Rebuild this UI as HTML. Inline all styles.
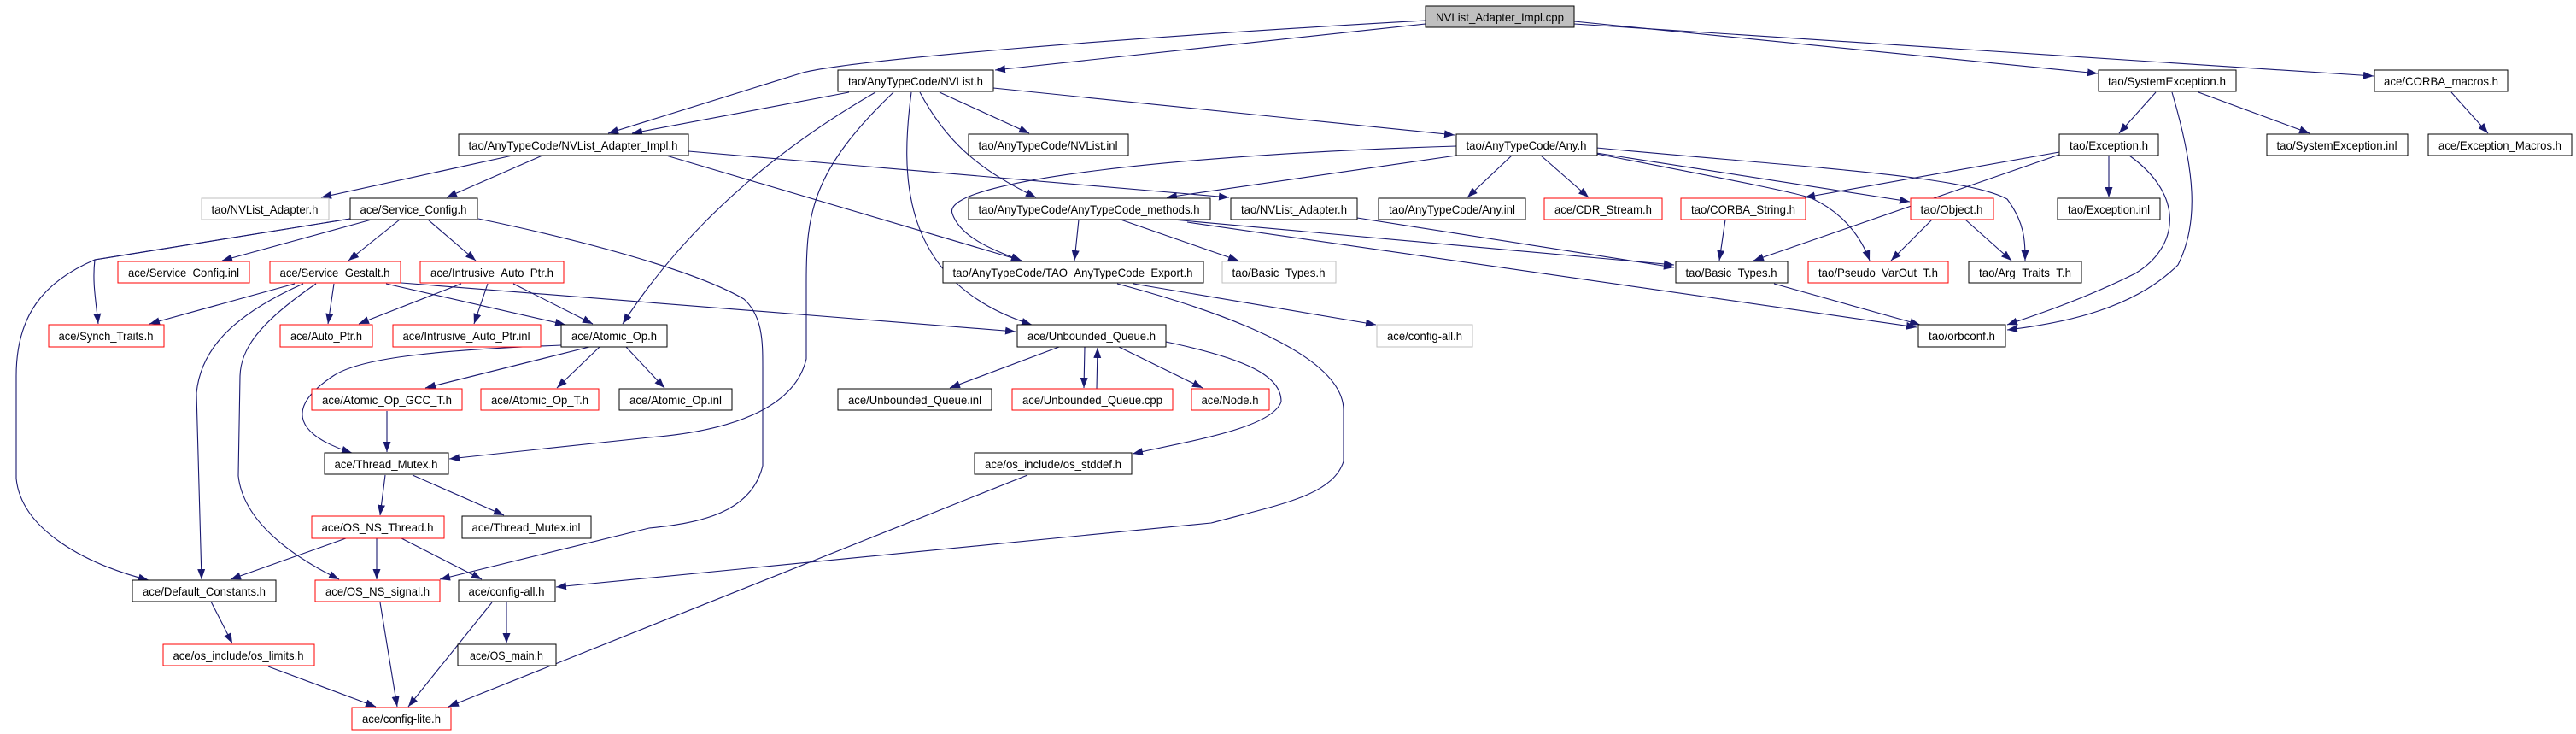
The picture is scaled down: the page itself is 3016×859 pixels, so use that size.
<!DOCTYPE html>
<html><head><meta charset="utf-8"><style>
html,body{margin:0;padding:0;background:#fff;}
svg{display:block;}
text{font-family:"Liberation Sans",sans-serif;font-size:14px;fill:#000;}
.e{fill:none;stroke:#191970;stroke-width:1.1;}
.b{fill:#fff;stroke:#000;stroke-width:1;}
.r{fill:#fff;stroke:#ff0000;stroke-width:1;}
.g{fill:#fff;stroke:#bfbfbf;stroke-width:1;}
</style></head><body>
<svg width="3016" height="859" viewBox="0 0 3016 859" xmlns="http://www.w3.org/2000/svg">
<defs><marker id="a" markerUnits="userSpaceOnUse" markerWidth="13" markerHeight="10" refX="12" refY="4.5" orient="auto"><path d="M0,0 L12,4.5 L0,9 z" fill="#191970"/></marker></defs>
<g class="e" marker-end="url(#a)">
<path d="M1669,28 L1165,82"/>
<path d="M1669,24 C1300,45 1000,70 940,85 L712,156"/>
<path d="M994,108 L740,156"/>
<path d="M1843,25 L2456,86"/>
<path d="M1843,28 L2779,89"/>
<path d="M1100,108 L1205,156"/>
<path d="M1163,103 L1703,158"/>
<path d="M1077,108 C1110,170 1150,200 1213,231"/>
<path d="M1067,108 C1055,200 1050,330 1208,380"/>
<path d="M1025,108 C900,180 800,270 729,379"/>
<path d="M1046,108 C950,200 944,250 944,330 L944,420 C930,480 850,505 760,512 L526,537"/>
<path d="M780,182 L1196,305"/>
<path d="M806,177 L1439,231"/>
<path d="M600,182 L376,231"/>
<path d="M635,182 L523,231"/>
<path d="M1705,182 L1366,231"/>
<path d="M1705,171 C1400,180 1100,210 1115,250 C1125,280 1170,295 1196,305"/>
<path d="M1770,182 L1718,231"/>
<path d="M1804,182 L1860,231"/>
<path d="M1869,180 C2050,215 2100,225 2121,232 C2160,250 2180,280 2189,305"/>
<path d="M1869,173 C2100,195 2300,205 2350,233 C2370,260 2371,280 2371,305"/>
<path d="M1869,179 L2236,236"/>
<path d="M1373,257 L1960,310"/>
<path d="M1589,255 L1960,313"/>
<path d="M1390,260 L2244,383"/>
<path d="M2077,332 L2248,380"/>
<path d="M1327,332 L1611,380"/>
<path d="M1308,332 C1450,370 1573,420 1573,480 L1573,540 C1560,580 1500,590 1418,612 L651,687"/>
<path d="M2411,181 L2053,305"/>
<path d="M2411,178 L2113,231"/>
<path d="M2469,182 L2469,231"/>
<path d="M2493,182 C2560,230 2550,290 2500,320 C2440,350 2380,370 2350,380"/>
<path d="M2543,108 C2570,200 2575,260 2550,310 C2500,360 2420,378 2350,386"/>
<path d="M2524,108 L2481,156"/>
<path d="M2574,108 L2704,156"/>
<path d="M2870,108 L2913,156"/>
<path d="M2020,257 L2013,305"/>
<path d="M2262,257 L2214,305"/>
<path d="M2301,257 L2355,305"/>
<path d="M1263,257 L1258,305"/>
<path d="M1312,257 L1450,305"/>
<path d="M435,257 L260,305"/>
<path d="M468,257 L408,305"/>
<path d="M501,257 L557,305"/>
<path d="M410,256 L111,304 C108,330 112,350 115,379"/>
<path d="M410,256 L111,304 C50,330 19,370 19,440 L19,560 C25,620 100,660 174,679"/>
<path d="M345,332 L175,379"/>
<path d="M391,332 L384,379"/>
<path d="M452,332 L662,380"/>
<path d="M470,331 L1189,388"/>
<path d="M355,332 C270,370 235,410 230,460 L236,678"/>
<path d="M370,332 C300,380 282,410 281,440 L279,557 C285,610 340,650 397,678"/>
<path d="M560,256 C700,285 820,320 871,350 C893,370 893,400 893,430 L893,545 C880,600 820,612 760,618 L515,678"/>
<path d="M540,332 L420,379"/>
<path d="M571,332 L555,379"/>
<path d="M601,332 L694,379"/>
<path d="M657,404 C500,410 420,420 390,440 C330,480 350,510 412,530"/>
<path d="M690,406 L498,454"/>
<path d="M702,406 L652,454"/>
<path d="M733,406 L778,454"/>
<path d="M453,481 L453,529"/>
<path d="M1240,406 L1112,454"/>
<path d="M1270,406 L1269,454"/>
<path d="M1284,455 L1285,407"/>
<path d="M1310,406 L1408,454"/>
<path d="M1365,400 C1460,420 1500,440 1500,470 C1490,500 1400,515 1326,531"/>
<path d="M451,556 L445,603"/>
<path d="M483,556 L590,603"/>
<path d="M405,630 L270,678"/>
<path d="M441,630 L441,678"/>
<path d="M470,630 L564,678"/>
<path d="M247,704 L272,753"/>
<path d="M314,780 L440,827"/>
<path d="M445,705 L465,827"/>
<path d="M576,705 L478,827"/>
<path d="M593,705 L593,753"/>
<path d="M1203,556 L525,827"/>
</g>
<g text-anchor="middle" lengthAdjust="spacingAndGlyphs">
<rect x="1669" y="7" width="174" height="25" fill="#bfbfbf" stroke="#000"/><text x="1756" y="25" textLength="150" lengthAdjust="spacingAndGlyphs">NVList_Adapter_Impl.cpp</text>
<rect class="b" x="981" y="82" width="182" height="25"/><text x="1072" y="100" textLength="158" lengthAdjust="spacingAndGlyphs">tao/AnyTypeCode/NVList.h</text>
<rect class="b" x="2457" y="82" width="161" height="25"/><text x="2537" y="100" textLength="138" lengthAdjust="spacingAndGlyphs">tao/SystemException.h</text>
<rect class="b" x="2780" y="82" width="156" height="25"/><text x="2858" y="100" textLength="134" lengthAdjust="spacingAndGlyphs">ace/CORBA_macros.h</text>
<rect class="b" x="537" y="157" width="269" height="25"/><text x="671" y="175" textLength="245" lengthAdjust="spacingAndGlyphs">tao/AnyTypeCode/NVList_Adapter_Impl.h</text>
<rect class="b" x="1134" y="157" width="187" height="25"/><text x="1227" y="175" textLength="163" lengthAdjust="spacingAndGlyphs">tao/AnyTypeCode/NVList.inl</text>
<rect class="b" x="1705" y="157" width="165" height="25"/><text x="1787" y="175" textLength="141" lengthAdjust="spacingAndGlyphs">tao/AnyTypeCode/Any.h</text>
<rect class="b" x="2411" y="157" width="116" height="25"/><text x="2469" y="175" textLength="92" lengthAdjust="spacingAndGlyphs">tao/Exception.h</text>
<rect class="b" x="2654" y="157" width="165" height="25"/><text x="2736" y="175" textLength="141" lengthAdjust="spacingAndGlyphs">tao/SystemException.inl</text>
<rect class="b" x="2843" y="157" width="168" height="25"/><text x="2927" y="175" textLength="144" lengthAdjust="spacingAndGlyphs">ace/Exception_Macros.h</text>
<rect class="g" x="236" y="232" width="149" height="25"/><text x="310" y="250" textLength="125" lengthAdjust="spacingAndGlyphs">tao/NVList_Adapter.h</text>
<rect class="b" x="410" y="232" width="149" height="25"/><text x="484" y="250" textLength="125" lengthAdjust="spacingAndGlyphs">ace/Service_Config.h</text>
<rect class="b" x="1134" y="232" width="283" height="25"/><text x="1275" y="250" textLength="259" lengthAdjust="spacingAndGlyphs">tao/AnyTypeCode/AnyTypeCode_methods.h</text>
<rect class="b" x="1441" y="232" width="148" height="25"/><text x="1515" y="250" textLength="124" lengthAdjust="spacingAndGlyphs">tao/NVList_Adapter.h</text>
<rect class="b" x="1614" y="232" width="172" height="25"/><text x="1700" y="250" textLength="148" lengthAdjust="spacingAndGlyphs">tao/AnyTypeCode/Any.inl</text>
<rect class="r" x="1808" y="232" width="138" height="25"/><text x="1877" y="250" textLength="114" lengthAdjust="spacingAndGlyphs">ace/CDR_Stream.h</text>
<rect class="r" x="1968" y="232" width="146" height="25"/><text x="2041" y="250" textLength="122" lengthAdjust="spacingAndGlyphs">tao/CORBA_String.h</text>
<rect class="r" x="2237" y="232" width="97" height="25"/><text x="2285" y="250" textLength="73" lengthAdjust="spacingAndGlyphs">tao/Object.h</text>
<rect class="b" x="2409" y="232" width="120" height="25"/><text x="2469" y="250" textLength="96" lengthAdjust="spacingAndGlyphs">tao/Exception.inl</text>
<rect class="r" x="138" y="306" width="154" height="25"/><text x="215" y="324" textLength="130" lengthAdjust="spacingAndGlyphs">ace/Service_Config.inl</text>
<rect class="r" x="316" y="306" width="153" height="25"/><text x="392" y="324" textLength="129" lengthAdjust="spacingAndGlyphs">ace/Service_Gestalt.h</text>
<rect class="r" x="492" y="306" width="168" height="25"/><text x="576" y="324" textLength="144" lengthAdjust="spacingAndGlyphs">ace/Intrusive_Auto_Ptr.h</text>
<rect class="b" x="1104" y="306" width="305" height="25"/><text x="1256" y="324" textLength="281" lengthAdjust="spacingAndGlyphs">tao/AnyTypeCode/TAO_AnyTypeCode_Export.h</text>
<rect class="g" x="1431" y="306" width="133" height="25"/><text x="1497" y="324" textLength="109" lengthAdjust="spacingAndGlyphs">tao/Basic_Types.h</text>
<rect class="b" x="1962" y="306" width="131" height="25"/><text x="2027" y="324" textLength="107" lengthAdjust="spacingAndGlyphs">tao/Basic_Types.h</text>
<rect class="r" x="2117" y="306" width="164" height="25"/><text x="2199" y="324" textLength="140" lengthAdjust="spacingAndGlyphs">tao/Pseudo_VarOut_T.h</text>
<rect class="b" x="2305" y="306" width="132" height="25"/><text x="2371" y="324" textLength="108" lengthAdjust="spacingAndGlyphs">tao/Arg_Traits_T.h</text>
<rect class="r" x="57" y="380" width="135" height="26"/><text x="124" y="398" textLength="111" lengthAdjust="spacingAndGlyphs">ace/Synch_Traits.h</text>
<rect class="r" x="328" y="380" width="108" height="26"/><text x="382" y="398" textLength="84" lengthAdjust="spacingAndGlyphs">ace/Auto_Ptr.h</text>
<rect class="r" x="460" y="380" width="173" height="26"/><text x="546" y="398" textLength="149" lengthAdjust="spacingAndGlyphs">ace/Intrusive_Auto_Ptr.inl</text>
<rect class="b" x="657" y="380" width="124" height="26"/><text x="719" y="398" textLength="100" lengthAdjust="spacingAndGlyphs">ace/Atomic_Op.h</text>
<rect class="b" x="1191" y="380" width="174" height="26"/><text x="1278" y="398" textLength="150" lengthAdjust="spacingAndGlyphs">ace/Unbounded_Queue.h</text>
<rect class="g" x="1612" y="380" width="112" height="26"/><text x="1668" y="398" textLength="88" lengthAdjust="spacingAndGlyphs">ace/config-all.h</text>
<rect class="b" x="2246" y="380" width="102" height="26"/><text x="2297" y="398" textLength="78" lengthAdjust="spacingAndGlyphs">tao/orbconf.h</text>
<rect class="r" x="365" y="455" width="176" height="25"/><text x="453" y="473" textLength="152" lengthAdjust="spacingAndGlyphs">ace/Atomic_Op_GCC_T.h</text>
<rect class="r" x="563" y="455" width="138" height="25"/><text x="632" y="473" textLength="114" lengthAdjust="spacingAndGlyphs">ace/Atomic_Op_T.h</text>
<rect class="b" x="725" y="455" width="132" height="25"/><text x="791" y="473" textLength="108" lengthAdjust="spacingAndGlyphs">ace/Atomic_Op.inl</text>
<rect class="b" x="981" y="455" width="180" height="25"/><text x="1071" y="473" textLength="156" lengthAdjust="spacingAndGlyphs">ace/Unbounded_Queue.inl</text>
<rect class="r" x="1185" y="455" width="188" height="25"/><text x="1279" y="473" textLength="164" lengthAdjust="spacingAndGlyphs">ace/Unbounded_Queue.cpp</text>
<rect class="r" x="1395" y="455" width="91" height="25"/><text x="1440" y="473" textLength="67" lengthAdjust="spacingAndGlyphs">ace/Node.h</text>
<rect class="b" x="380" y="530" width="145" height="25"/><text x="452" y="548" textLength="121" lengthAdjust="spacingAndGlyphs">ace/Thread_Mutex.h</text>
<rect class="b" x="1141" y="530" width="184" height="25"/><text x="1233" y="548" textLength="160" lengthAdjust="spacingAndGlyphs">ace/os_include/os_stddef.h</text>
<rect class="r" x="365" y="604" width="155" height="26"/><text x="442" y="622" textLength="131" lengthAdjust="spacingAndGlyphs">ace/OS_NS_Thread.h</text>
<rect class="b" x="541" y="604" width="151" height="26"/><text x="616" y="622" textLength="127" lengthAdjust="spacingAndGlyphs">ace/Thread_Mutex.inl</text>
<rect class="b" x="155" y="679" width="168" height="25"/><text x="239" y="697" textLength="144" lengthAdjust="spacingAndGlyphs">ace/Default_Constants.h</text>
<rect class="r" x="369" y="679" width="146" height="25"/><text x="442" y="697" textLength="122" lengthAdjust="spacingAndGlyphs">ace/OS_NS_signal.h</text>
<rect class="b" x="537" y="679" width="113" height="25"/><text x="593" y="697" textLength="89" lengthAdjust="spacingAndGlyphs">ace/config-all.h</text>
<rect class="r" x="191" y="754" width="177" height="25"/><text x="279" y="772" textLength="153" lengthAdjust="spacingAndGlyphs">ace/os_include/os_limits.h</text>
<rect class="b" x="536" y="754" width="115" height="25"/><text x="593" y="772" textLength="86" lengthAdjust="spacingAndGlyphs">ace/OS_main.h</text>
<rect class="r" x="412" y="828" width="116" height="26"/><text x="470" y="846" textLength="92" lengthAdjust="spacingAndGlyphs">ace/config-lite.h</text>
</g>
</svg>
</body></html>
